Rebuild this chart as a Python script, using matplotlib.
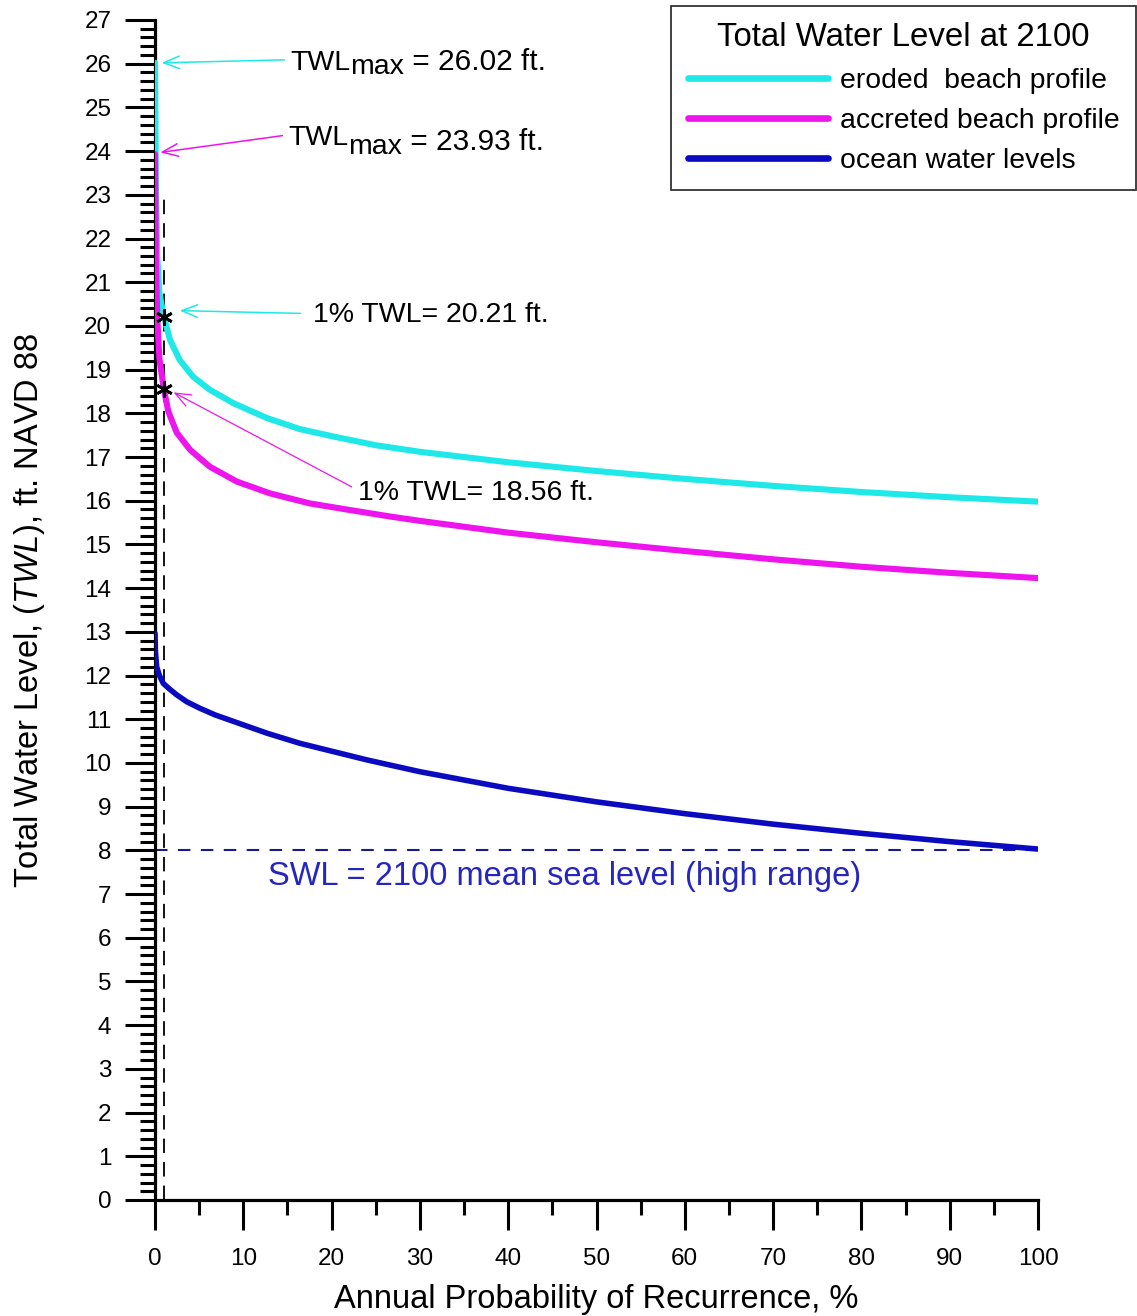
import matplotlib
matplotlib.use("Agg")
import matplotlib.pyplot as plt
from matplotlib.ticker import MultipleLocator

plt.rcParams['font.family'] = ['Liberation Sans', 'DejaVu Sans']
plt.rcParams['mathtext.fontset'] = 'custom'
plt.rcParams['mathtext.rm'] = 'Liberation Sans'
plt.rcParams['mathtext.it'] = 'Liberation Sans:italic'
plt.rcParams['mathtext.bf'] = 'Liberation Sans:bold'

# ---------------- data ----------------
eroded_x = [0, 0.1, 0.25, 0.5, 1, 1.7, 2.8, 4.3, 6.2, 8.9, 12.7, 16.4, 20.2, 25, 30,
            40, 50, 60, 70, 80, 90, 100]
eroded_y = [26.02, 23.2, 21.6, 20.75, 20.21, 19.68, 19.22, 18.84, 18.54, 18.23, 17.89,
            17.64, 17.47, 17.27, 17.12, 16.88, 16.68, 16.5, 16.34, 16.2, 16.08, 15.98]

accreted_x = [0, 0.1, 0.25, 0.5, 1, 1.5, 2.45, 4.0, 6.2, 9.25, 13, 17.5, 22, 26.6, 30,
              40, 50, 60, 70, 80, 90, 100]
accreted_y = [23.93, 21.4, 20.2, 19.25, 18.56, 18.05, 17.56, 17.16, 16.78, 16.44, 16.17,
              15.94, 15.79, 15.64, 15.54, 15.27, 15.05, 14.85, 14.66, 14.49, 14.35, 14.23]

ocean_x = [0, 0.05, 0.19, 0.5, 0.94, 1.6, 2.45, 3.6, 5.1, 6.8, 8.9, 12.7, 16.4, 20.2, 24,
           30, 40, 50, 60, 70, 80, 90, 100]
ocean_y = [12.97, 12.55, 12.2, 12.0, 11.82, 11.7, 11.56, 11.4, 11.25, 11.1, 10.95, 10.68,
           10.45, 10.26, 10.07, 9.8, 9.42, 9.11, 8.84, 8.6, 8.39, 8.2, 8.03]

series_labels = ["eroded  beach profile", "accreted beach profile", "ocean water levels"]
legend_title = "Total Water Level at 2100"

twl_max = [26.02, 23.93]
one_pct_x = 1
one_pct_twl = [20.21, 18.56]
swl_level = 8
one_pct_line_top = 23

x_ticks = list(range(0, 101, 10))
y_ticks = list(range(0, 28))

CYAN = '#1fe8e8'
MAGENTA = '#ee14ee'
BLUE = '#0a0ac0'

# ---------------- figure ----------------
fig = plt.figure(figsize=(11.37, 13.16), dpi=100)
ax = fig.add_axes([155/1137, 1-1200/1316, (1038-155)/1137, (1200-20)/1316])

ax.plot(eroded_x, eroded_y, color=CYAN, lw=4.4, label=series_labels[0],
        solid_capstyle='round', solid_joinstyle='round', zorder=3)
ax.plot(accreted_x, accreted_y, color=MAGENTA, lw=4.4, label=series_labels[1],
        solid_capstyle='round', solid_joinstyle='round', zorder=4)
ax.plot(ocean_x, ocean_y, color=BLUE, lw=4.0, label=series_labels[2],
        solid_capstyle='round', solid_joinstyle='round', zorder=4)

# reference lines
ax.plot([one_pct_x, one_pct_x], [0, one_pct_line_top], color='black', lw=1.3,
        dashes=(8, 5), zorder=2)
ax.plot([0, 100], [swl_level, swl_level], color='#1a1a90', lw=1.5, dashes=(6, 5), zorder=2)

# 1% points
ax.plot([one_pct_x] * len(one_pct_twl), one_pct_twl, linestyle='none',
        marker=(6, 2, 0), markersize=12, mec='black', mew=2.0, zorder=6)

ax.set_xlim(0, 100)
ax.set_ylim(0, 27)
ax.xaxis.set_minor_locator(MultipleLocator(5))
ax.yaxis.set_minor_locator(MultipleLocator(0.2))
ax.set_xticks(x_ticks)
ax.set_yticks(y_ticks)

for s in ['top', 'right']:
    ax.spines[s].set_visible(False)
for s in ['left', 'bottom']:
    ax.spines[s].set_linewidth(2.3)

ax.tick_params(which='major', direction='out', length=21.5, width=2.2, labelsize=17.5, pad=10)
ax.tick_params(which='minor', direction='out', length=10.8, width=2.2)
ax.tick_params(axis='x', which='major', pad=13)

ax.set_xlabel("Annual Probability of Recurrence, %", fontsize=23.5, labelpad=10)
ax.set_ylabel(r"Total Water Level, ($\mathit{TWL}$), ft. NAVD 88", fontsize=23.5, labelpad=26.5)

# annotations
ann_fs = 20.5
ARROW = '->,head_length=0.55,head_width=0.22'


def twl_max_label(value, text_xy, tip_xy, color):
    t1 = ax.annotate("TWL", xy=tip_xy, xytext=text_xy, fontsize=ann_fs, ha='left',
                     va='baseline',
                     arrowprops=dict(arrowstyle=ARROW, color=color, lw=1.1,
                                     relpos=(0, 0.62), shrinkA=2, shrinkB=0))
    t2 = ax.annotate("max", xy=(1, 0), xycoords=t1, xytext=(0.0, -2.8),
                     textcoords='offset points', fontsize=ann_fs,
                     ha='left', va='bottom')
    ax.annotate(" = %.2f ft." % value, xy=(1, 0), xycoords=(t2, t1), fontsize=21.5,
                ha='left', va='bottom')


twl_max_label(twl_max[0], (15.29, 25.86), (0.75, twl_max[0]), CYAN)
twl_max_label(twl_max[1], (15.06, 24.14), (0.6, 23.97), MAGENTA)

ax.annotate("1%% TWL= %.2f ft." % one_pct_twl[0], xy=(2.8, 20.35),
            xytext=(17.9, 20.09), fontsize=ann_fs, ha='left', va='baseline',
            arrowprops=dict(arrowstyle=ARROW, color=CYAN,
                            lw=1.1, relpos=(0, 0.55), shrinkA=7, shrinkB=0))
ax.annotate("1%% TWL= %.2f ft." % one_pct_twl[1], xy=(2.1, 18.48),
            xytext=(23.0, 16.02), fontsize=ann_fs, ha='left', va='baseline',
            arrowprops=dict(arrowstyle=ARROW, color=MAGENTA,
                            lw=0.9, relpos=(0, 0.6), shrinkA=3, shrinkB=0))

ax.text(12.8, 7.4, "SWL = 2100 mean sea level (high range)", fontsize=23.5,
        color='#2525c0', ha='left', va='center')

leg = ax.legend(loc='upper right', bbox_to_anchor=(1137/1137 - 0.001, 1 - 6/1316),
                bbox_transform=fig.transFigure, borderaxespad=0, fontsize=20.4,
                title=legend_title, title_fontsize=23.8, handlelength=4.95,
                handletextpad=0.42, labelspacing=0.5, fancybox=False, frameon=True,
                borderpad=0.58)
leg.get_frame().set_edgecolor('black')
leg.get_frame().set_linewidth(1.3)
for line in leg.get_lines():
    line.set_linewidth(4.8)

fig.savefig("out.png", dpi=100)
